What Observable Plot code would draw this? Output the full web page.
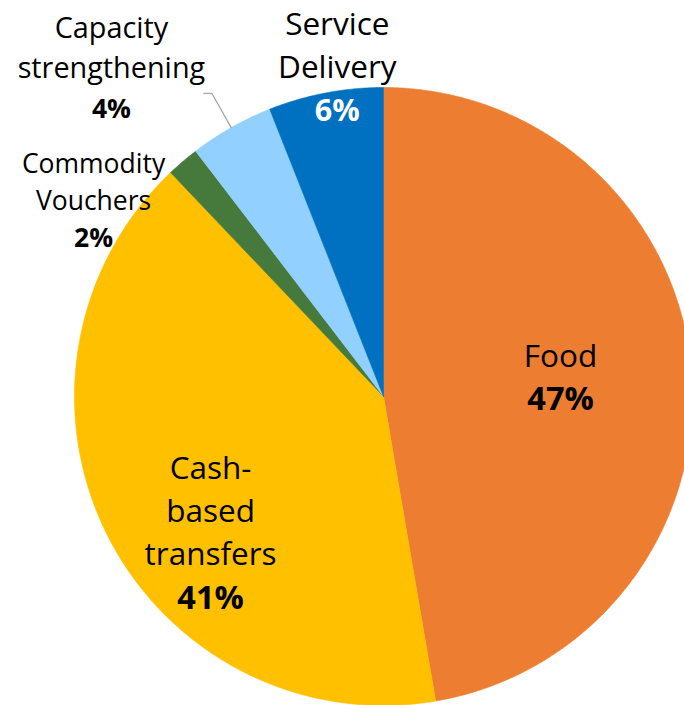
<!DOCTYPE html>
<html>
<head>
<meta charset="utf-8">
<script src="https://cdn.jsdelivr.net/npm/d3@7"></script>
<script src="https://cdn.jsdelivr.net/npm/@observablehq/plot@0.6"></script>
<style>
  html, body { margin: 0; padding: 0; background: #fff; }
  #chart svg { display: block; }
</style>
</head>
<body>
<div id="chart"></div>
<script>
// ---- data ----
const categories = ["Food", "Cash-based transfers", "Commodity Vouchers", "Capacity strengthening", "Service Delivery"];
const shares = [47.3, 40.6, 1.7, 4.4, 6.0];
const nameLabels = ["Food", "Cash-\nbased\ntransfers", "Commodity\nVouchers", "Capacity\nstrengthening", "Service\nDelivery"];
const pctLabels = ["47%", "41%", "2%", "4%", "6%"];
const colors = ["#ED7D31", "#FFC000", "#467A3C", "#91D0FF", "#0070C0"];

// ---- layout (pixels; chart units = pixels, pie centre at origin) ----
const W = 684, H = 705, R = 309, CX = 383, CY = 396;
const labelLayout = [
  {angle: 94.5,  r: 177.6, nameSize: 31.5, pctSize: 32.5, gap: 43, white: false},
  {angle: 219.2, r: 273.6, nameSize: 31.5, pctSize: 32.5, gap: 43.3, white: false},
  {angle: 297.2, r: 326,   nameSize: 26.5, pctSize: 26.5, gap: 37, white: false},
  {angle: 315.7, r: 389.6, nameSize: 28.8, pctSize: 26.5, gap: 40, white: false},
  {angle: 350.5, r: 279.8, nameSize: 31.5, pctSize: 30.5, gap: 43, white: true}
];

const arcs = d3.pie().sort(null).value(d => d)(shares);

// slice outlines
const slicePts = [];
arcs.forEach((a, i) => {
  const name = categories[i];
  slicePts.push({name, x: 0, y: 0});
  const n = Math.max(2, Math.ceil((a.endAngle - a.startAngle) / (Math.PI / 360)));
  for (let k = 0; k <= n; k++) {
    const t = a.startAngle + (a.endAngle - a.startAngle) * k / n;
    slicePts.push({name, x: R * Math.sin(t), y: R * Math.cos(t)});
  }
  slicePts.push({name, x: 0, y: 0});
});

// labels
const labels = categories.map((c, i) => {
  const L = labelLayout[i];
  const t = L.angle * Math.PI / 180;
  const px = L.r * Math.sin(t), py = L.r * Math.cos(t);
  return {
    name: nameLabels[i], pct: pctLabels[i],
    px, py, nx: px, ny: py + L.gap,
    nameSize: L.nameSize, pctSize: L.pctSize, gap: L.gap, white: L.white
  };
});

// leader line for "Capacity strengthening"
const cap = arcs[3];
const mid = (cap.startAngle + cap.endAngle) / 2;
const elbow = {x: R * 1.127 * Math.sin(mid), y: R * 1.127 * Math.cos(mid)};
const leader = [
  {x: elbow.x - 8, y: elbow.y},
  elbow,
  {x: R * Math.sin(mid), y: R * Math.cos(mid)}
];

const FONT = "'Open Sans', sans-serif";
const nameMarks = labels.map(d => Plot.text([d], {
  x: "nx", y: "ny", text: "name", fontSize: d.nameSize, lineAnchor: "bottom",
  lineHeight: d.gap / d.nameSize, fill: "#000", fontFamily: FONT
}));

const chart = Plot.plot({
  width: W,
  height: H,
  margin: 0,
  x: {axis: null, domain: [-CX, W - CX]},
  y: {axis: null, domain: [-(H - CY), CY]},
  color: {domain: categories, range: colors},
  style: {background: "#fff", fontFamily: FONT},
  marks: [
    Plot.line(slicePts, {x: "x", y: "y", z: "name", fill: "name", stroke: "name", strokeWidth: 0.6, curve: "linear"}),
    Plot.line(leader, {x: "x", y: "y", stroke: "#A6A6A6", strokeWidth: 1.3}),
    ...nameMarks,
    Plot.text(labels, {filter: d => !d.white, x: "px", y: "py", text: "pct", fontSize: d => d.pctSize,
      lineAnchor: "bottom", fontWeight: "bold", fill: "#000", fontFamily: FONT}),
    Plot.text(labels, {filter: d => d.white, x: "px", y: "py", text: "pct", fontSize: d => d.pctSize,
      lineAnchor: "bottom", fontWeight: "bold", fill: "#fff", fontFamily: FONT})
  ]
});
document.getElementById("chart").appendChild(chart);
</script>
</body>
</html>
